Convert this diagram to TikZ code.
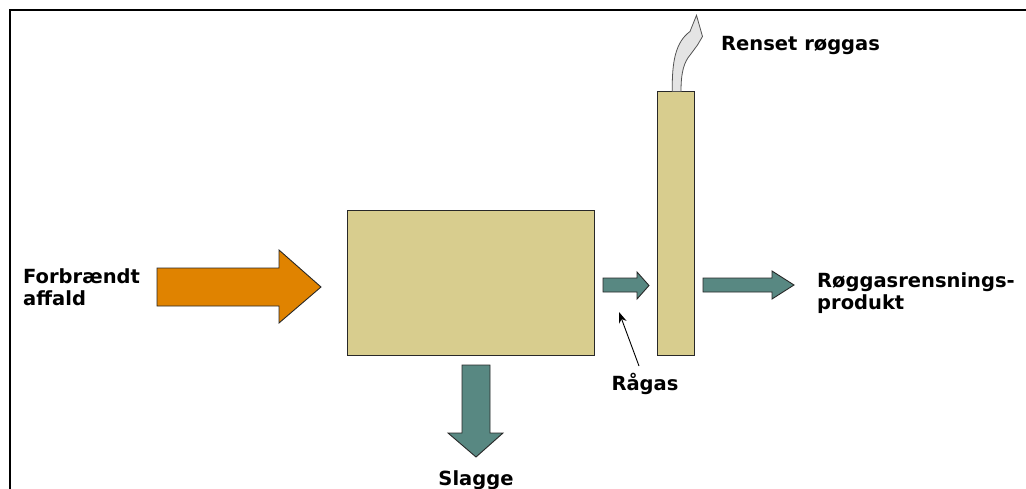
\documentclass[tikz,border=0pt]{standalone}
\usepackage{fontspec}
\setmainfont{DejaVu Sans}
\usetikzlibrary{arrows.meta}
\definecolor{khaki}{RGB}{216,205,142}
\definecolor{tealc}{RGB}{88,136,130}
\definecolor{orangec}{RGB}{224,131,0}
\definecolor{smoke}{RGB}{228,228,228}
\definecolor{edge}{RGB}{40,40,40}
\tikzset{
  unitbox/.style={draw=edge, line width=1pt, fill=khaki, inner sep=0pt},
  blockarr/.style={draw=edge, line width=0.9pt, line join=miter},
  lbl/.style={font=\bfseries\fontsize{19.5}{22}\selectfont, inner sep=0pt, align=left},
  framel/.style={line width=1.6pt, draw=black}
}
\begin{document}
\begin{tikzpicture}[x=1pt,y=-1pt]
\useasboundingbox (0,0) rectangle (1026,488);
% frame
\draw[framel] (10,489) -- (10,10) -- (1027,10);
% units
\node[unitbox, minimum width=247pt, minimum height=145pt] (furnace) at (470.5,282.5) {};
\node[unitbox, minimum width=37pt, minimum height=264pt] (stack) at (675.5,223) {};
% orange input arrow
\draw[blockarr, fill=orangec] (157,268) -- (279,268) -- (279,250) -- (321,287) -- (279,323) -- (279,306) -- (157,306) -- cycle;
% raw gas arrow
\draw[blockarr, fill=tealc] (603,278) -- (637,278) -- (637,272) -- (649,285.5) -- (637,299) -- (637,292) -- (603,292) -- cycle;
% product arrow
\draw[blockarr, fill=tealc] (703,278) -- (772,278) -- (772,271) -- (794,285) -- (772,299) -- (772,292) -- (703,292) -- cycle;
% slag arrow
\draw[blockarr, fill=tealc] (462,365) -- (490,365) -- (490,433) -- (503,433) -- (476,457) -- (448,433) -- (462,433) -- cycle;
% cleaned flue gas curved arrow
\draw[draw=edge!80, line width=0.8pt, fill=smoke, line join=miter]
  (672.3,91.5) .. controls (671.8,62) and (675.5,42) .. (690,31.5)
  -- (696.5,15.3) -- (702.5,36.5) -- (697.5,45) -- (690.5,54.5)
  .. controls (684,62) and (681,72) .. (681,91.5) -- cycle;
% labels
\node[lbl, anchor=north west] (inlbl) at (23,268) {Forbrændt\\affald};
\node[lbl, anchor=base west] (cleanlbl) at (721,50) {Renset røggas};
\node[lbl, anchor=base] (ragas) at (645,390) {Rågas};
\node[lbl, anchor=base] (slag) at (476,485) {Slagge};
\node[lbl, anchor=north west] (prodlbl) at (817,272) {Røggasrensnings-\\produkt};
% pointer
\coordinate (ragasfoot) at (639,366);
\coordinate (ragastip) at (619,312);
\draw[line width=0.9pt, -{Stealth[length=11pt,width=8pt]}] (ragasfoot) -- (ragastip);
\end{tikzpicture}
\end{document}
